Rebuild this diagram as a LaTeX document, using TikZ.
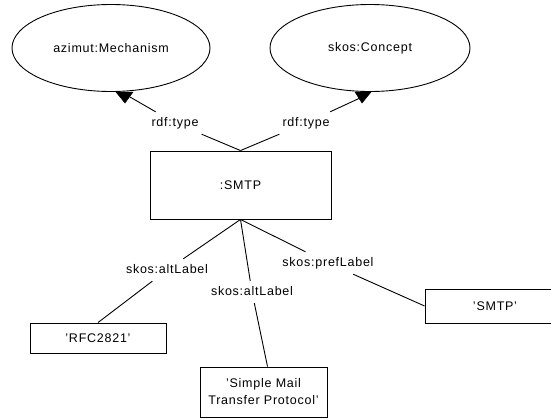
\documentclass[tikz,border=0pt]{standalone}
\usepackage{fontspec}
\setmainfont{Liberation Sans}[LetterSpace=6]
\usetikzlibrary{shapes.geometric}
\begin{document}
\begin{tikzpicture}[x=1pt,y=-1pt,line width=0.9pt,
  every node/.style={font=\fontsize{12.5}{17}\selectfont},
  cls/.style={ellipse,draw,minimum width=198pt,minimum height=87pt,inner sep=0pt},
  res/.style={rectangle,draw,inner sep=0pt},
  prop/.style={inner xsep=3pt,inner ysep=5pt,text height=9pt,text depth=2.5pt},
  tip/.style={fill=black,draw=black,line width=0.5pt}]
\useasboundingbox (0,0) rectangle (551,418);
\clip (0,0) rectangle (551,418);
% classes
\node[cls] (mech) at (111,48) {azimut:Mechanism};
\node[cls,minimum width=200pt] (concept) at (370,48) {skos:Concept};
% main resource
\node[res,minimum width=181pt,minimum height=68pt] (smtp) at (240.5,185) {:SMTP};
% literals
\node[res,minimum width=136pt,minimum height=30pt] (rfc) at (98,338) {'RFC2821'};
\node[res,minimum width=127pt,minimum height=50pt,align=center] (simple) at (263.5,392) {'Simple Mail\\Transfer Protocol'};
\node[res,minimum width=140pt,minimum height=34pt] (lit) at (495,306) {'SMTP'};
% property labels
\node[prop] (type1) at (175,123) {rdf:type};
\node[prop] (type2) at (306,123) {rdf:type};
\node[prop] (alt1) at (167,270) {skos:altLabel};
\node[prop] (alt2) at (252,292) {skos:altLabel};
\node[prop] (pref) at (328,263) {skos:prefLabel};
% arrow ends
\coordinate (a1) at (130,97);
\coordinate (a2) at (360,98);
\fill[tip] (116,92) -- (133,92) -- (125,103) -- cycle;
\fill[tip] (355,92) -- (371,92) -- (362,103) -- cycle;
% connectors
\draw (smtp.north) -- (type1);
\draw (type1) -- (a1);
\draw (smtp.north) -- (type2);
\draw (type2) -- (a2);
\draw (smtp.south) -- (alt1);
\draw (alt1) -- (rfc.north);
\draw (smtp.south) -- (alt2);
\draw (alt2) -- ([xshift=4pt]simple.north);
\draw (smtp.south) -- (pref);
\draw (pref) -- (lit.west);
\end{tikzpicture}
\end{document}
